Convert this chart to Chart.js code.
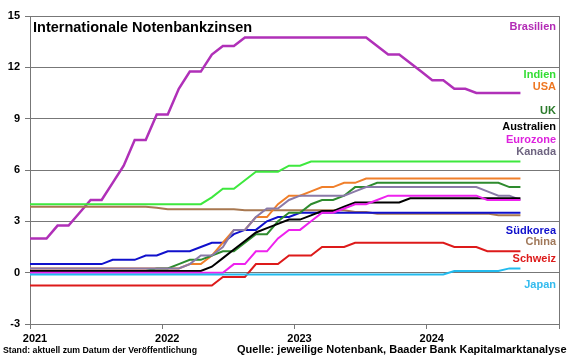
<!DOCTYPE html>
<html>
<head>
<meta charset="utf-8">
<script src="https://cdn.jsdelivr.net/npm/chart.js@4"></script>
<style>
  body { margin: 0; background: #fff; }
  #wrap { width: 580px; height: 358px; }
</style>
</head>
<body>
<div id="wrap"><canvas id="chart" width="580" height="358"></canvas></div>
<script>
// ==========================
// DATA (monthly, Jan 2021 - Sep 2024)
// ==========================

const yearLabels = ["2021", "2022", "2023", "2024"];
const yTicks = [-3, 0, 3, 6, 9, 12, 15];

const brasilien = [
  2.0, 2.0, 2.75, 2.75, 3.5, 4.25, 4.25, 5.25, 6.25, 7.75, 7.75, 9.25,
  9.25, 10.75, 11.75, 11.75, 12.75, 13.25, 13.25, 13.75, 13.75, 13.75, 13.75, 13.75,
  13.75, 13.75, 13.75, 13.75, 13.75, 13.75, 13.75, 13.25, 12.75, 12.75, 12.25, 11.75,
  11.25, 11.25, 10.75, 10.75, 10.5, 10.5, 10.5, 10.5, 10.5
];
const indien = [
  4.0, 4.0, 4.0, 4.0, 4.0, 4.0, 4.0, 4.0, 4.0, 4.0, 4.0, 4.0,
  4.0, 4.0, 4.0, 4.0, 4.4, 4.9, 4.9, 5.4, 5.9, 5.9, 5.9, 6.25,
  6.25, 6.5, 6.5, 6.5, 6.5, 6.5, 6.5, 6.5, 6.5, 6.5, 6.5, 6.5,
  6.5, 6.5, 6.5, 6.5, 6.5, 6.5, 6.5, 6.5, 6.5
];
const usa = [
  0.25, 0.25, 0.25, 0.25, 0.25, 0.25, 0.25, 0.25, 0.25, 0.25, 0.25, 0.25,
  0.25, 0.25, 0.5, 0.5, 1.0, 1.75, 2.5, 2.5, 3.25, 3.25, 4.0, 4.5,
  4.5, 4.75, 5.0, 5.0, 5.25, 5.25, 5.5, 5.5, 5.5, 5.5, 5.5, 5.5,
  5.5, 5.5, 5.5, 5.5, 5.5, 5.5, 5.5, 5.5, 5.5
];
const uk = [
  0.1, 0.1, 0.1, 0.1, 0.1, 0.1, 0.1, 0.1, 0.1, 0.1, 0.1, 0.25,
  0.25, 0.5, 0.75, 0.75, 1.0, 1.25, 1.25, 1.75, 2.25, 2.25, 3.0, 3.5,
  3.5, 4.0, 4.25, 4.25, 4.5, 5.0, 5.0, 5.25, 5.25, 5.25, 5.25, 5.25,
  5.25, 5.25, 5.25, 5.25, 5.25, 5.25, 5.25, 5.0, 5.0
];
const australien = [
  0.1, 0.1, 0.1, 0.1, 0.1, 0.1, 0.1, 0.1, 0.1, 0.1, 0.1, 0.1,
  0.1, 0.1, 0.1, 0.1, 0.35, 0.85, 1.35, 1.85, 2.35, 2.6, 2.85, 3.1,
  3.1, 3.35, 3.6, 3.6, 3.85, 4.1, 4.1, 4.1, 4.1, 4.1, 4.35, 4.35,
  4.35, 4.35, 4.35, 4.35, 4.35, 4.35, 4.35, 4.35, 4.35
];
const eurozone = [
  0, 0, 0, 0, 0, 0, 0, 0, 0, 0, 0, 0,
  0, 0, 0, 0, 0, 0, 0.5, 0.5, 1.25, 1.25, 2.0, 2.5,
  2.5, 3.0, 3.5, 3.5, 3.75, 4.0, 4.0, 4.25, 4.5, 4.5, 4.5, 4.5,
  4.5, 4.5, 4.5, 4.5, 4.5, 4.25, 4.25, 4.25, 4.25
];
const kanada = [
  0.25, 0.25, 0.25, 0.25, 0.25, 0.25, 0.25, 0.25, 0.25, 0.25, 0.25, 0.25,
  0.25, 0.25, 0.5, 1.0, 1.0, 1.5, 2.5, 2.5, 3.25, 3.75, 3.75, 4.25,
  4.5, 4.5, 4.5, 4.5, 4.5, 4.75, 5.0, 5.0, 5.0, 5.0, 5.0, 5.0,
  5.0, 5.0, 5.0, 5.0, 5.0, 4.75, 4.5, 4.5, 4.25
];
const suedkorea = [
  0.5, 0.5, 0.5, 0.5, 0.5, 0.5, 0.5, 0.75, 0.75, 0.75, 1.0, 1.0,
  1.25, 1.25, 1.25, 1.5, 1.75, 1.75, 2.25, 2.5, 2.5, 3.0, 3.25, 3.25,
  3.5, 3.5, 3.5, 3.5, 3.5, 3.5, 3.5, 3.5, 3.5, 3.5, 3.5, 3.5,
  3.5, 3.5, 3.5, 3.5, 3.5, 3.5, 3.5, 3.5, 3.5
];
const china = [
  3.85, 3.85, 3.85, 3.85, 3.85, 3.85, 3.85, 3.85, 3.85, 3.85, 3.85, 3.8,
  3.7, 3.7, 3.7, 3.7, 3.7, 3.7, 3.7, 3.65, 3.65, 3.65, 3.65, 3.65,
  3.65, 3.65, 3.65, 3.65, 3.65, 3.55, 3.55, 3.45, 3.45, 3.45, 3.45, 3.45,
  3.45, 3.45, 3.45, 3.45, 3.45, 3.45, 3.35, 3.35, 3.35
];
const schweiz = [
  -0.75, -0.75, -0.75, -0.75, -0.75, -0.75, -0.75, -0.75, -0.75, -0.75, -0.75, -0.75,
  -0.75, -0.75, -0.75, -0.75, -0.75, -0.25, -0.25, -0.25, 0.5, 0.5, 0.5, 1.0,
  1.0, 1.0, 1.5, 1.5, 1.5, 1.75, 1.75, 1.75, 1.75, 1.75, 1.75, 1.75,
  1.75, 1.75, 1.5, 1.5, 1.5, 1.25, 1.25, 1.25, 1.25
];
const japan = [
  -0.1, -0.1, -0.1, -0.1, -0.1, -0.1, -0.1, -0.1, -0.1, -0.1, -0.1, -0.1,
  -0.1, -0.1, -0.1, -0.1, -0.1, -0.1, -0.1, -0.1, -0.1, -0.1, -0.1, -0.1,
  -0.1, -0.1, -0.1, -0.1, -0.1, -0.1, -0.1, -0.1, -0.1, -0.1, -0.1, -0.1,
  -0.1, -0.1, 0.1, 0.1, 0.1, 0.1, 0.1, 0.25, 0.25
];

// ==========================
// SERIES (draw order: first = on top)
// ==========================

const series = [
  { name: "Japan", data: japan, color: "#22bbee", label: "#33bbee", labelY: 285 },
  { name: "Schweiz", data: schweiz, color: "#dd1a1a", label: "#dd1a1a", labelY: 259 },
  { name: "Eurozone", data: eurozone, color: "#ee22ee", label: "#dd22dd", labelY: 140 },
  { name: "Australien", data: australien, color: "#000000", label: "#000000", labelY: 127 },
  { name: "Kanada", data: kanada, color: "#8a7aa8", label: "#6e6480", labelY: 152 },
  { name: "UK", data: uk, color: "#2e8b2e", label: "#2a7a2a", labelY: 111 },
  { name: "USA", data: usa, color: "#f07f2a", label: "#ee7722", labelY: 87 },
  { name: "Südkorea", data: suedkorea, color: "#1010cc", label: "#1010cc", labelY: 231 },
  { name: "China", data: china, color: "#a87850", label: "#a0785a", labelY: 242 },
  { name: "Indien", data: indien, color: "#3ee83e", label: "#33dd33", labelY: 75 },
  { name: "Brasilien", data: brasilien, color: "#b030b8", label: "#b22bb5", labelY: 27, width: 2.5 }
];

// month index -> x (first value also drawn from the axis start)
function toPoints(values){
  const pts = [{ x: 0, y: values[0] }];
  for(let i = 0; i < values.length; i++){
    pts.push({ x: i + 0.5, y: values[i] });
  }
  return pts;
}

// ==========================
// TEXT PLUGIN
// ==========================

const textPlugin = {
  id: "texts",
  afterDraw(chart){
    const c = chart.ctx;
    const area = chart.chartArea;
    c.save();

    // right border
    c.strokeStyle = "#777";
    c.lineWidth = 1;
    c.beginPath();
    c.moveTo(Math.round(area.right) + 0.5, area.top);
    c.lineTo(Math.round(area.right) + 0.5, area.bottom);
    c.stroke();

    // title
    c.fillStyle = "#000";
    c.textBaseline = "middle";
    c.textAlign = "left";
    c.font = "bold 14.5px 'Liberation Sans', Arial, sans-serif";
    c.fillText("Internationale Notenbankzinsen", 33, 28);

    // series labels
    c.textAlign = "right";
    c.font = "bold 11px 'Liberation Sans', Arial, sans-serif";
    series.forEach(s => {
      c.fillStyle = s.label;
      c.fillText(s.name, 556, s.labelY);
    });

    // footer
    c.fillStyle = "#000";
    c.textAlign = "left";
    c.font = "bold 9px 'Liberation Sans', Arial, sans-serif";
    c.fillText("Stand: aktuell zum Datum der Veröffentlichung", 3, 351, 194);
    c.font = "bold 11px 'Liberation Sans', Arial, sans-serif";
    c.fillText("Quelle: jeweilige Notenbank, Baader Bank Kapitalmarktanalyse", 237, 350, 339);

    c.restore();
  }
};

// ==========================
// CHART
// ==========================

const tickFont = { family: "'Liberation Sans', Arial, sans-serif", size: 11, weight: "bold" };

new Chart(document.getElementById("chart"), {
  type: "line",
  data: {
    datasets: series.map(s => ({
      label: s.name,
      data: toPoints(s.data),
      borderColor: s.color,
      backgroundColor: s.color,
      borderWidth: s.width || 2,
      pointRadius: 0,
      tension: 0,
      fill: false
    }))
  },
  options: {
    responsive: false,
    animation: false,
    layout: { padding: { top: 16, right: 21, left: 0, bottom: 0 } },
    plugins: {
      legend: { display: false },
      tooltip: { enabled: false }
    },
    scales: {
      x: {
        type: "linear",
        min: 0,
        max: 48,
        afterBuildTicks: axis => {
          axis.ticks = [0, 12, 24, 36, 48].map(v => ({ value: v }));
        },
        afterFit: axis => { axis.height = 34; },
        ticks: {
          callback: v => yearLabels[v / 12] || "",
          color: "#000",
          font: tickFont,
          maxRotation: 0,
          autoSkip: false,
          labelOffset: 5,
          padding: 3
        },
        grid: { drawOnChartArea: false, tickLength: 5, color: "#777" },
        border: { color: "#777" }
      },
      y: {
        min: -3,
        max: 15,
        afterBuildTicks: axis => {
          axis.ticks = yTicks.map(v => ({ value: v }));
        },
        afterFit: axis => { axis.width = 30; },
        ticks: {
          color: "#000",
          font: tickFont,
          padding: 5
        },
        grid: { color: "#777", tickLength: 5 },
        border: { color: "#777" }
      }
    }
  },
  plugins: [textPlugin]
});
</script>
</body>
</html>
